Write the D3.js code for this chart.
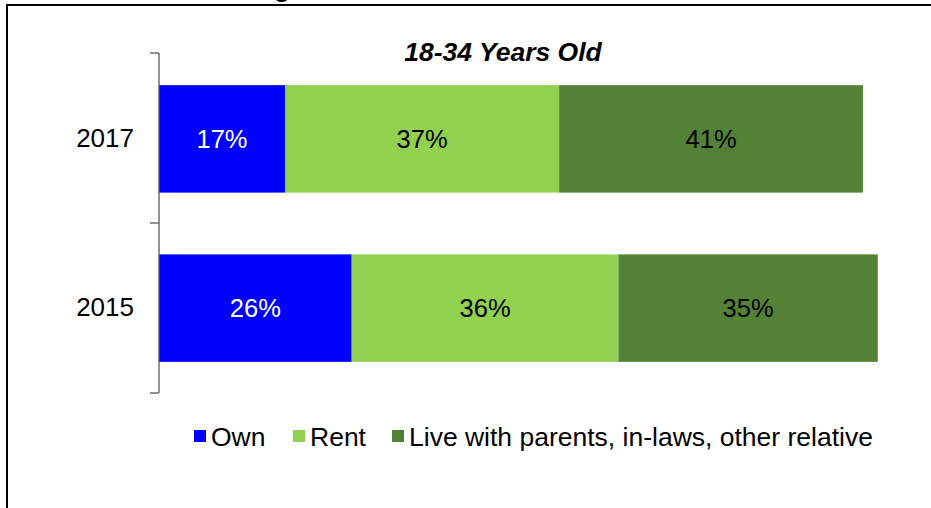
<!DOCTYPE html>
<html><head><meta charset="utf-8">
<script src="https://cdn.jsdelivr.net/npm/d3@7"></script>
<style>body{margin:0;background:#fff}svg{display:block}text{font-family:"Liberation Sans",Arial,sans-serif}</style>
</head><body>
<svg id="c" width="931" height="508"></svg>
<script>
const years = ["2017", "2015"];
const seriesNames = ["Own", "Rent", "Live with parents, in-laws, other relative"];
const own = [17, 26];
const rent = [37, 36];
const live = [41, 35];
const colors = ["#0000FF", "#92D050", "#538135"];
const labelColors = ["#ffffff", "#000000", "#000000"];

const svg = d3.select("#c");
// frame
svg.append("path").attr("d", "M7,509 L7,5 L932,5").attr("fill", "none").attr("stroke", "#000").attr("stroke-width", 2);
// clipped heading above frame
svg.append("text").attr("x", 290).attr("y", -3).attr("text-anchor", "end")
  .attr("font-size", 26).attr("font-weight", "bold").text("Housing");

const x = d3.scaleLinear().domain([0, 100]).range([159, 900]);
const y = d3.scaleBand().domain(years).range([53, 394]).paddingInner(0.365).paddingOuter(0.19);

svg.append("text").attr("x", 503).attr("y", 61).attr("text-anchor", "middle")
  .attr("font-size", 26.5).attr("font-weight", "bold").attr("font-style", "italic").text("18-34 Years Old");

const rows = years.map((yr, i) => ({year: yr, Own: own[i], Rent: rent[i], Live: live[i]}));
const stack = d3.stack().keys(["Own", "Rent", "Live"])(rows);

stack.forEach((layer, k) => {
  const g = svg.append("g");
  g.selectAll("rect").data(layer).join("rect")
    .attr("x", d => x(d[0])).attr("width", d => x(d[1]) - x(d[0]))
    .attr("y", d => y(d.data.year)).attr("height", y.bandwidth())
    .attr("fill", colors[k]);
  g.selectAll("text").data(layer).join("text")
    .attr("x", d => (x(d[0]) + x(d[1])) / 2)
    .attr("y", d => y(d.data.year) + y.bandwidth() / 2)
    .attr("dy", "0.35em").attr("text-anchor", "middle")
    .attr("font-size", 25.5).attr("fill", labelColors[k])
    .text(d => (d[1] - d[0]) + "%");
});

// axis
const ax = svg.append("g").attr("transform", "translate(159,0)")
  .call(d3.axisLeft(y).tickSize(0).tickPadding(25));
ax.select(".domain").remove();
ax.selectAll("text").attr("font-size", 26).attr("fill", "#000").attr("font-family", "Liberation Sans, Arial, sans-serif");
const bounds = [53, 223, 393];
svg.append("line").attr("x1", 159).attr("x2", 159).attr("y1", 53).attr("y2", 393).attr("stroke", "#595959").attr("stroke-width", 1.3);
svg.selectAll(".btick").data(bounds).join("line").attr("class", "btick")
  .attr("x1", 150).attr("x2", 159).attr("y1", d => d).attr("y2", d => d)
  .attr("stroke", "#595959").attr("stroke-width", 1.3);

// legend
const legendX = [194, 293, 392];
const lg = svg.append("g");
seriesNames.forEach((n, i) => {
  lg.append("rect").attr("x", legendX[i]).attr("y", 430).attr("width", 12).attr("height", 12).attr("fill", colors[i]);
  lg.append("text").attr("x", legendX[i] + 17).attr("y", 446).attr("font-size", 26.5).attr("fill", "#000").text(n);
});
</script>
</body></html>
